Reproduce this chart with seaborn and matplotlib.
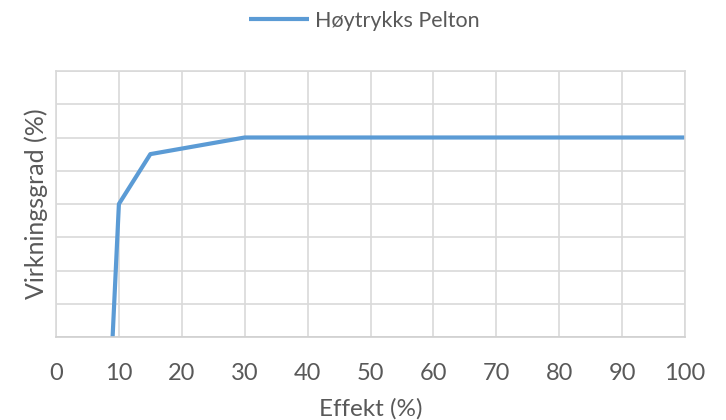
import matplotlib
matplotlib.use("Agg")
import matplotlib.pyplot as plt
import seaborn as sns
import pandas as pd

# Efficiency curve of a high-head Pelton turbine
effekt = [9, 10, 15, 30, 100]          # load, % of rated power
virkningsgrad = [20, 60, 75, 80, 80]   # efficiency, %
serie = "Høytrykks Pelton"
x_ticks = list(range(0, 101, 10))

df = pd.DataFrame({"Effekt": effekt, "Virkningsgrad": virkningsgrad, "Serie": serie})

sns.set_theme(style="whitegrid")
plt.rcParams["font.family"] = ["Lato", "DejaVu Sans"]

text_col = "#595959"
grid_col = "#D9D9D9"
line_col = "#5B9BD5"

fig = plt.figure(figsize=(7.26, 4.2), dpi=100)
ax = fig.add_axes([56 / 726, 83 / 420, 629 / 726, 266 / 420])

sns.lineplot(data=df, x="Effekt", y="Virkningsgrad", hue="Serie",
             palette=[line_col], linewidth=3, ax=ax, clip_on=False,
             solid_capstyle="butt")

ax.set_xlim(0, 100)
ax.set_ylim(20, 100)
ax.set_xticks(x_ticks)
ax.set_yticks(range(20, 101, 10))
ax.set_yticklabels([])
ax.tick_params(axis="x", colors=text_col, labelsize=17, length=0, pad=19)
ax.tick_params(axis="y", length=0)
ax.grid(True, color=grid_col, linewidth=1.2)
for s in ax.spines.values():
    s.set_color(grid_col)
    s.set_linewidth(1.2)
ax.spines["bottom"].set_color("#D0D0D0")

ax.set_xlabel("Effekt (%)", color=text_col, fontsize=17.5, labelpad=10)
ax.set_ylabel("Virkningsgrad (%)", color=text_col, fontsize=18, labelpad=2)

leg = ax.legend(loc="upper center", bbox_to_anchor=(0.49, 1.30), frameon=False,
                fontsize=15.5, handlelength=2.8, handletextpad=0.25)
for t in leg.get_texts():
    t.set_color(text_col)

fig.savefig("out.png", dpi=100, facecolor="white")
